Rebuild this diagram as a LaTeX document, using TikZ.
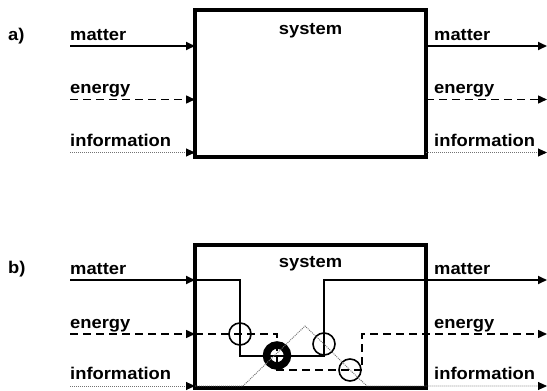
\documentclass[tikz,border=0pt]{standalone}
\usepackage{fontspec}
\setmainfont{Liberation Sans}[FakeStretch=1.08]
\usetikzlibrary{arrows.meta}
\begin{document}
\begin{tikzpicture}[x=1pt,y=-1pt,
 lbl/.style={font=\fontsize{17}{20}\selectfont\bfseries, anchor=base west, inner sep=0},
 ttl/.style={font=\fontsize{17}{20}\selectfont\bfseries, anchor=base, inner sep=0},
 sysbox/.style={draw, line width=3.3pt, minimum width=231pt, inner sep=0, outer sep=0, anchor=north west},
 mat/.style={line width=2pt},
 ene/.style={line width=1.5pt, dash pattern=on 8pt off 5pt},
 inf/.style={line width=0.9pt, black!55, dash pattern=on 1pt off 1pt},
 tip/.style={-{Triangle[length=9pt,width=8pt,black]}},
 ring/.style={circle, draw, line width=1.6pt, minimum size=22pt, inner sep=0},
 bigring/.style={circle, draw, line width=7.5pt, minimum size=21pt, inner sep=0}]
\useasboundingbox (0,0) rectangle (547,391);

% ---------- panel a ----------
\node[lbl] (la) at (8,40) {a)};
\node[sysbox, minimum height=147pt] (boxa) at (195,10) {};
\node[ttl] (sysa) at (310.5,34) {system};

\coordinate (ma-in) at (70,46);
\coordinate (ea-in) at (70,99.5);
\coordinate (ia-in) at (70,152.5);
\coordinate (ma-out) at (547,46);
\coordinate (ea-out) at (547,99.5);
\coordinate (ia-out) at (547,152.5);

\draw[mat,tip] (ma-in) -- (boxa.west |- ma-in);
\draw[ene,tip] (ea-in) -- (boxa.west |- ea-in);
\draw[inf,tip] (ia-in) -- (boxa.west |- ia-in);
\draw[mat,tip] (boxa.east |- ma-out) -- (ma-out);
\draw[ene,tip] (boxa.east |- ea-out) -- (ea-out);
\draw[inf,tip] (boxa.east |- ia-out) -- (ia-out);

\node[lbl] (lma) at (70,40) {matter};
\node[lbl] (lea) at (70,93.5) {energy};
\node[lbl] (lia) at (70,146) {information};
\node[lbl] (rma) at (434,40) {matter};
\node[lbl] (rea) at (434,93.5) {energy};
\node[lbl] (ria) at (434,146) {information};

% ---------- panel b ----------
\node[lbl] (lb) at (8,273) {b)};
\node[sysbox, minimum height=143pt] (boxb) at (195,245) {};
\node[ttl] (sysb) at (310.5,267) {system};

\coordinate (mb-in) at (70,280);
\coordinate (eb-in) at (70,334);
\coordinate (ib-in) at (70,386);
\coordinate (mb-out) at (547,280);
\coordinate (eb-out) at (547,334);
\coordinate (ib-out) at (547,386);

\node[ring] (c1) at (240,334) {};
\node[bigring] (c0) at (277,355.5) {};
\node[ring] (c2) at (324,344) {};
\node[ring] (c3) at (350,370) {};

\draw[mat,tip] (mb-in) -- (boxb.west |- mb-in);
\draw[ene,tip] (eb-in) -- (boxb.west |- eb-in);
\draw[inf,tip] (ib-in) -- (boxb.west |- ib-in);

% inner flows
\draw[mat,tip] (boxb.west |- mb-in) -- (c1.center |- mb-in) -- (c1.center) -- (c1.center |- c0.center)
  -- (c0.center) -- (c2.center |- c0.center) -- (c2.center) -- (c2.center |- mb-out) -- (mb-out);
\draw[ene,tip] (boxb.west |- eb-in) -- (c1.center) -- (c0.center |- c1.center) -- (c0.center)
  -- (c0.center |- c3.center) -- (c3.center) -- (362,370) -- (362,334) -- (eb-out);
\draw[inf,tip] (boxb.west |- ib-in) -- (243,386) -- (305,326) -- (c2.center) -- (c3.center) -- (367,386) -- (ib-out);

\node[lbl] (lmb) at (70,274) {matter};
\node[lbl] (leb) at (70,328) {energy};
\node[lbl] (lib) at (70,379.5) {information};
\node[lbl] (rmb) at (434,274.5) {matter};
\node[lbl] (reb) at (434,328) {energy};
\node[lbl] (rib) at (434,379) {information};
\end{tikzpicture}
\end{document}
